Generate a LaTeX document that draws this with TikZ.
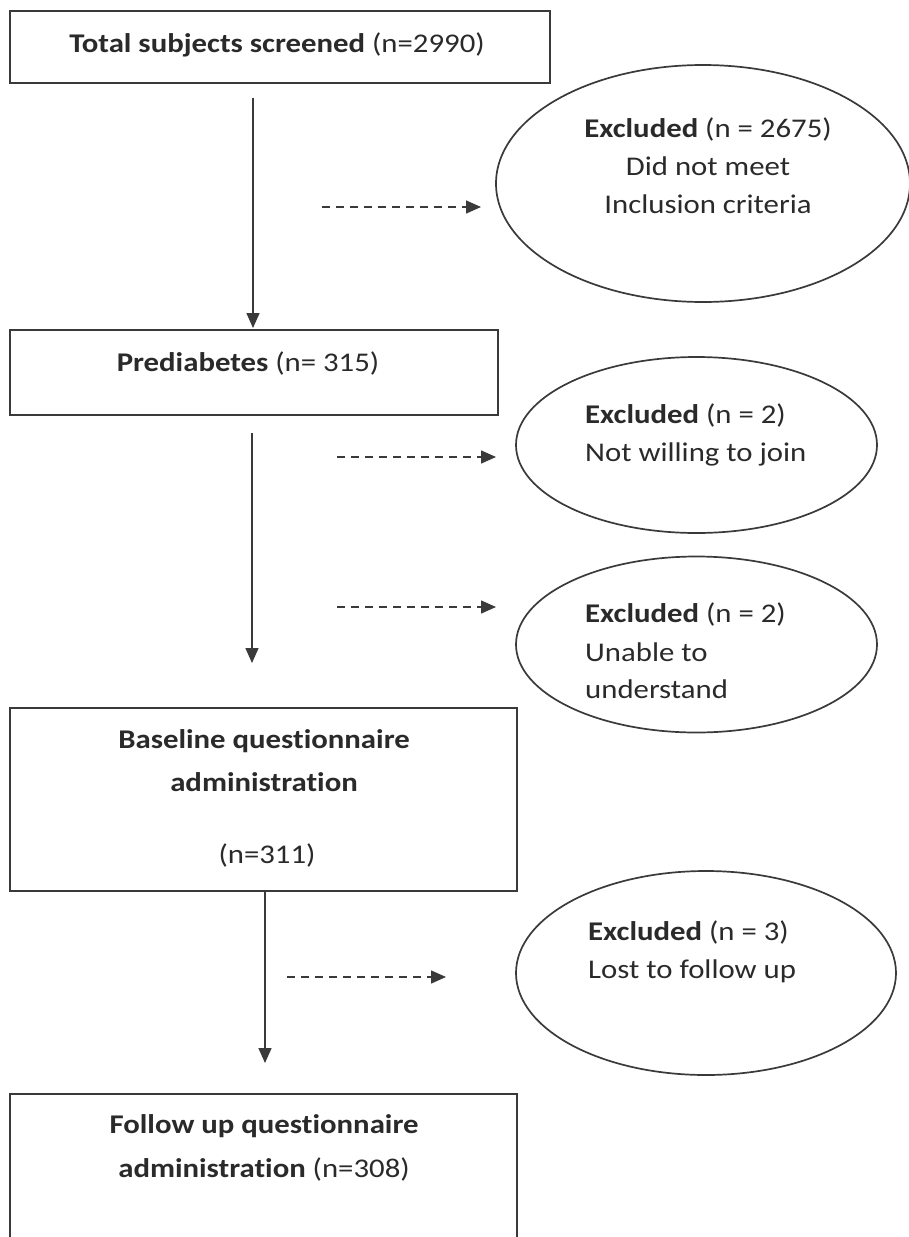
\documentclass[tikz,border=0pt]{standalone}
\usepackage{fontspec}
\setmainfont{Carlito}[FakeStretch=1.14,RawFeature=-liga]
\usetikzlibrary{arrows.meta,shapes.geometric}
\definecolor{ink}{HTML}{2A2A2A}
\definecolor{edgec}{HTML}{3A3A3A}
\begin{document}
\begin{tikzpicture}[x=1pt,y=-1pt,
  box/.style={draw=edgec,line width=2pt,rectangle,inner sep=0pt},
  ell/.style={draw=edgec,line width=1.7pt,ellipse,inner sep=0pt},
  txt/.style={font=\fontsize{27}{32}\selectfont,text=ink,inner sep=0pt,anchor=base},
  ltxt/.style={txt,anchor=base west},
  arr/.style={draw=edgec,line width=1.5pt,-{Triangle[length=15pt,width=13pt]}},
  darr/.style={arr,dash pattern=on 8pt off 6pt}]
\clip (0,0) rectangle (909,1237);
\fill[white] (0,0) rectangle (909,1237);
% boxes
\node[box,minimum width=540pt,minimum height=72pt] (b1) at (280,47) {};
\node[box,minimum width=488pt,minimum height=85pt] (b2) at (254,372.5) {};
\node[box,minimum width=507pt,minimum height=183pt] (b3) at (263.5,799.5) {};
\node[box,minimum width=507pt,minimum height=200pt] (b4) at (263.5,1194) {};
% ellipses
\node[ell,minimum width=414pt,minimum height=237pt] (e1) at (703,183.5) {};
\node[ell,minimum width=361pt,minimum height=176pt] (e2) at (696.5,445) {};
\node[ell,minimum width=361pt,minimum height=176pt] (e3) at (696.5,644.5) {};
\node[ell,minimum width=380pt,minimum height=204pt] (e4) at (706,973) {};
% texts
\node[txt] (t1) at (277,52) {\textbf{Total subjects screened} (n=2990)};
\node[txt] (t2a) at (708,137) {\textbf{Excluded} (n = 2675)};
\node[txt] (t2b) at (708,175) {Did not meet};
\node[txt] (t2c) at (708,213) {Inclusion criteria};
\node[txt] (t3) at (248,371) {\textbf{Prediabetes} (n= 315)};
\node[ltxt] (t4a) at (585,423) {\textbf{Excluded} (n = 2)};
\node[ltxt] (t4b) at (585,461) {Not willing to join};
\node[ltxt] (t5a) at (585,622) {\textbf{Excluded} (n = 2)};
\node[ltxt] (t5b) at (585,661) {Unable to};
\node[ltxt] (t5c) at (585,698) {understand};
\node[txt] (t6a) at (264,748) {\textbf{Baseline questionnaire}};
\node[txt] (t6b) at (264,791.5) {\textbf{administration}};
\node[txt] (t6c) at (267,863.5) {(n=311)};
\node[ltxt] (t7a) at (588,940) {\textbf{Excluded} (n = 3)};
\node[ltxt] (t7b) at (588,978.5) {Lost to follow up};
\node[txt] (t8a) at (264,1133.5) {\textbf{Follow up questionnaire}};
\node[txt] (t8b) at (264,1177) {\textbf{administration} (n=308)};
% solid arrows
\coordinate (a1s) at (253,98);
\coordinate (a1e) at (253,328);
\draw[arr] (a1s) -- (a1e);
\coordinate (a2s) at (252,433);
\coordinate (a2e) at (252,663);
\draw[arr] (a2s) -- (a2e);
\coordinate (a3e) at (265,1063);
\draw[arr] (b3.south -| a3e) -- (a3e);
% dashed arrows
\coordinate (d1s) at (322,207); \coordinate (d1e) at (481,207);
\draw[darr] (d1s) -- (d1e);
\coordinate (d2s) at (337,457); \coordinate (d2e) at (496,457);
\draw[darr] (d2s) -- (d2e);
\coordinate (d3s) at (337,607); \coordinate (d3e) at (496,607);
\draw[darr] (d3s) -- (d3e);
\coordinate (d4s) at (287,977); \coordinate (d4e) at (446,977);
\draw[darr] (d4s) -- (d4e);
\end{tikzpicture}
\end{document}
